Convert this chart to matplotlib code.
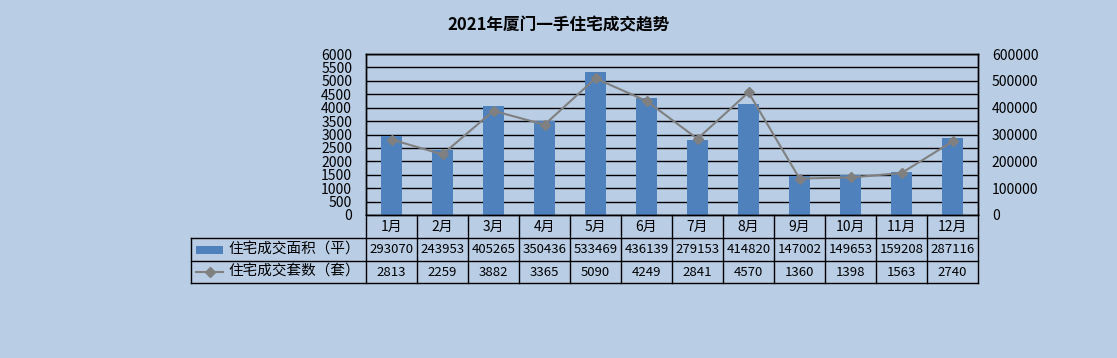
import matplotlib.pyplot as plt
from matplotlib.patches import Rectangle
from matplotlib.lines import Line2D
import numpy as np

plt.rcParams['font.family'] = ['Noto Sans CJK SC', 'DejaVu Sans']

months = ['1月', '2月', '3月', '4月', '5月', '6月', '7月', '8月', '9月', '10月', '11月', '12月']
area = [293070, 243953, 405265, 350436, 533469, 436139, 279153, 414820, 147002, 149653, 159208, 287116]
units = [2813, 2259, 3882, 3365, 5090, 4249, 2841, 4570, 1360, 1398, 1563, 2740]
area_name = '住宅成交面积（平）'
units_name = '住宅成交套数（套）'
title = '2021年厦门一手住宅成交趋势'

bg = '#b9cde5'
bar_color = '#4f81bd'
line_color = '#808080'

fig = plt.figure(figsize=(11.17, 3.58), dpi=100, facecolor=bg)
ax = fig.add_axes([366 / 1117, 1 - 215 / 358, 612 / 1117, 161 / 358])
ax.set_facecolor(bg)
ax2 = ax.twinx()
x = np.arange(len(months))

# bars on the area scale (shown on the right)
ax.bar(x, area, width=0.4, color=bar_color, zorder=2)
ax.set_ylim(0, 600000)
ax.set_xlim(-0.5, len(months) - 0.5)
ax.set_yticks(np.arange(0, 600001, 50000))
ax.set_yticklabels([str(v) if v % 100000 == 0 else '' for v in range(0, 600001, 50000)])
ax.yaxis.tick_right()
ax.set_axisbelow(True)
ax.yaxis.grid(True, color='black', lw=1)
ax.set_xticks([])
ax.tick_params(axis='y', length=0, pad=10, labelsize=10)

# line on the units scale (shown on the left)
ax2.plot(x, units, color=line_color, lw=1.5, marker='D', markersize=5, zorder=3)
ax2.set_ylim(0, 6000)
ax2.set_yticks(np.arange(0, 6001, 500))
ax2.yaxis.tick_left()
ax2.tick_params(axis='y', length=0, pad=10, labelsize=10)

for a in (ax, ax2):
    for s in a.spines.values():
        s.set_color('black')
        s.set_linewidth(1)

fig.text(0.5, 1 - 25 / 358, title, ha='center', va='center', fontsize=12, fontweight='bold')

# data table below the plot
n = len(months)
tr = ax.transAxes
row_h = 23 / 161
y0, y1, y2, y3 = 0, -row_h, -2 * row_h, -3 * row_h + 1 / 161
legend_left = -175 / 612
kw = dict(color='black', lw=1, transform=tr, clip_on=False)

ax.add_line(Line2D([0, 0], [y0, y3], **kw))
ax.add_line(Line2D([1, 1], [y0, y3], **kw))
for i in range(1, n):
    ax.add_line(Line2D([i / n, i / n], [y0, y3], **kw))
for yy in (y1, y2, y3):
    ax.add_line(Line2D([legend_left, 1], [yy, yy], **kw))
ax.add_line(Line2D([legend_left, legend_left], [y1, y3], **kw))

for i in range(n):
    cx = (i + 0.5) / n
    ax.text(cx, (y0 + y1) / 2, months[i], transform=tr, ha='center', va='center', fontsize=10)
    ax.text(cx, (y1 + y2) / 2, str(area[i]), transform=tr, ha='center', va='center', fontsize=9.5)
    ax.text(cx, (y2 + y3) / 2, str(units[i]), transform=tr, ha='center', va='center', fontsize=9.5)

# legend keys in the first column
ax.add_patch(Rectangle((-170 / 612, (y1 + y2) / 2 - 4 / 161), 27 / 612, 8 / 161,
                       facecolor=bar_color, edgecolor='none', transform=tr, clip_on=False))
ax.add_line(Line2D([-170 / 612, -143 / 612], [(y2 + y3) / 2] * 2, color=line_color, lw=1.5,
                   transform=tr, clip_on=False))
ax.add_line(Line2D([-156.5 / 612], [(y2 + y3) / 2], color=line_color, marker='D', markersize=5,
                   transform=tr, clip_on=False))
ax.text(-138 / 612, (y1 + y2) / 2, area_name, transform=tr, ha='left', va='center', fontsize=10.5)
ax.text(-138 / 612, (y2 + y3) / 2, units_name, transform=tr, ha='left', va='center', fontsize=10.5)

fig.savefig('out.png', dpi=100, facecolor=bg)
